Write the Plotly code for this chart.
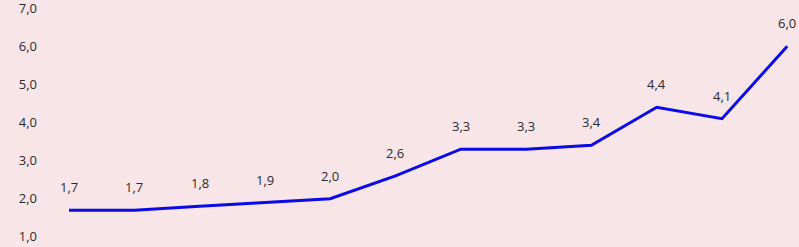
import plotly.graph_objects as go

x_idx = list(range(12))
values = [1.7, 1.7, 1.8, 1.9, 2.0, 2.6, 3.3, 3.3, 3.4, 4.4, 4.1, 6.0]
y_ticks = [1, 2, 3, 4, 5, 6, 7]
y_tick_labels = ["1,0", "2,0", "3,0", "4,0", "5,0", "6,0", "7,0"]
value_labels = [f"{v:.1f}".replace(".", ",") for v in values]

BG = "#F7E5E7"
FONT = dict(family="Open Sans, Liberation Sans, sans-serif", size=13, color="#2b2b2b")

fig = go.Figure()
fig.add_trace(go.Scatter(x=x_idx, y=values, mode="lines",
                         line=dict(color="#0A0AE6", width=3), hoverinfo="skip"))
for xi, v, t in zip(x_idx, values, value_labels):
    fig.add_annotation(x=xi, y=v, text=t, showarrow=False, yshift=23,
                       font=FONT)

fig.update_layout(
    width=799, height=247,
    margin=dict(l=38, r=0, t=8, b=10, autoexpand=False),
    paper_bgcolor=BG, plot_bgcolor=BG,
    showlegend=False,
    font=FONT,
    xaxis=dict(range=[-0.475, 11.18], showgrid=False, zeroline=False,
               showticklabels=False, showline=False),
    yaxis=dict(range=[0.995, 7.005], tickvals=y_ticks, ticktext=y_tick_labels,
               showgrid=False, zeroline=False, showline=False,
               ticks="", tickfont=FONT, automargin=False,
               ticklabeloverflow="allow"),
)
fig.write_html("out.html", config={"displayModeBar": False},
               post_script="document.body.style.margin='0';document.body.style.overflow='hidden';")
